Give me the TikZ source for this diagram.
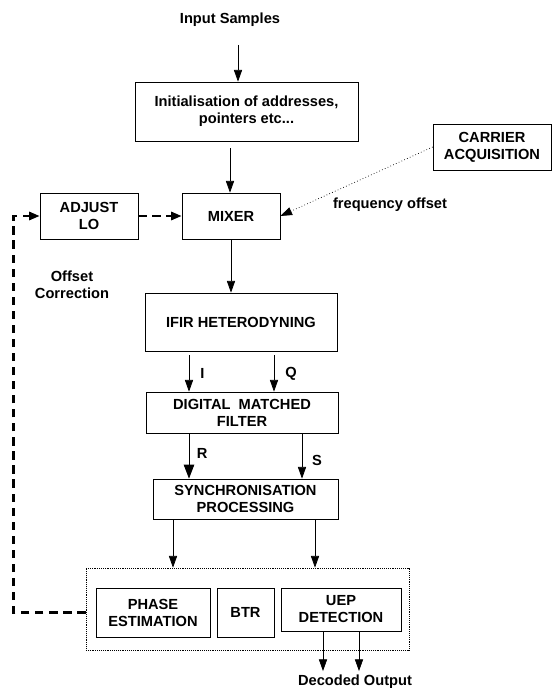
\documentclass[tikz,border=0pt]{standalone}
\usepackage{fontspec}
\setmainfont{Liberation Sans}
\usetikzlibrary{arrows.meta}
\tikzset{
  blk/.style={draw, line width=0.6pt, align=center, inner sep=2pt},
  lbl/.style={font=\fontsize{12.5}{14.5}\selectfont\bfseries, align=center},
  arr/.style={line width=0.6pt, -{Triangle[length=10pt,width=7pt]}},
  bigarr/.style={line width=0.8pt, -{Triangle[length=12pt,width=9pt]}},
  dotarr/.style={dotted, line width=0.6pt, -{Triangle[length=10pt,width=7pt]}},
  fbline/.style={line width=2pt, dash pattern=on 7pt off 5pt, -{Triangle[length=9pt,width=7pt]}},
  grpbox/.style={draw, densely dotted, line width=0.6pt}
}
\begin{document}
\begin{tikzpicture}[x=0.03cm, y=-0.03cm, every node/.style={lbl}]
  \useasboundingbox (0,0) rectangle (552,688);

  % top of the chain
  \node (input) at (230,20) {Input Samples};
  \node[blk, minimum width=6.69cm, minimum height=1.77cm] (init) at (246.5,111.5)
    {Initialisation of addresses,\\pointers etc...};
  \node[blk, minimum width=2.94cm, minimum height=1.38cm] (mixer) at (231,216) {MIXER};
  \node[blk, minimum width=2.94cm, minimum height=1.38cm] (adjust) at (89,216) {ADJUST\\LO};
  \node[blk, minimum width=3.54cm, minimum height=1.38cm] (carrier) at (492,147) {CARRIER\\ACQUISITION};
  \node (freq) at (390,205) {frequency offset};
  \node (offset) at (72,285) {Offset\\Correction};

  % filtering
  \node[blk, minimum width=5.76cm, minimum height=1.74cm] (ifir) at (241,322) {IFIR HETERODYNING};
  \node[blk, minimum width=5.76cm, minimum height=1.23cm] (dmf) at (242,412.5) {DIGITAL\ \ MATCHED\\FILTER};
  \node[blk, minimum width=5.55cm, minimum height=1.2cm] (sync) at (245.5,499) {SYNCHRONISATION\\PROCESSING};

  % bottom group
  \node[grpbox, minimum width=9.69cm, minimum height=2.46cm] (grp) at (247.5,609) {};
  \node[blk, minimum width=3.42cm, minimum height=1.47cm] (phase) at (153,612.5) {PHASE\\ESTIMATION};
  \node[blk, minimum width=1.71cm, minimum height=1.47cm] (btr) at (245.5,612.5) {BTR};
  \node[blk, minimum width=3.6cm, minimum height=1.29cm] (uep) at (341,609.5) {UEP\\DETECTION};
  \node (out) at (355,682) {Decoded Output};

  % connectors
  \draw[arr] (input.south -| 238,0) ++(0,14) -- (init.north -| 238,0);
  \draw[arr] (init.south -| 230,0) ++(0,7) -- (mixer.north -| 230,0);
  \draw[dotarr] (carrier.west) -- (mixer.east);
  \draw[fbline] (adjust.east) -- (mixer.west);
  \draw[arr] (mixer.south) -- (mixer.south |- ifir.north);
  \draw[arr] (ifir.south -| 189,0) ++(0,4) -- (dmf.north -| 189,0) node[midway, right, xshift=6pt] {I};
  \draw[arr] (ifir.south -| 274,0) ++(0,4) -- (dmf.north -| 274,0) node[midway, right, xshift=6pt] {Q};
  \draw[bigarr] (dmf.south -| 189,0) -- (sync.north -| 189,0) node[pos=0.45, right, xshift=3pt] {R};
  \draw[arr] (dmf.south -| 302,0) -- (sync.north -| 302,0) node[pos=0.6, right, xshift=5pt] {S};
  \draw[arr] (sync.south -| 173,0) -- (grp.north -| 173,0);
  \draw[arr] (sync.south -| 315,0) -- (grp.north -| 315,0);
  \draw[arr] (uep.south -| 323,0) -- (out.north -| 323,0);
  \draw[arr] (uep.south -| 359,0) -- (out.north -| 359,0);
  \draw[fbline] (grp.west |- phase) -- ++(-72,0) |- (adjust.west);
\end{tikzpicture}
\end{document}
